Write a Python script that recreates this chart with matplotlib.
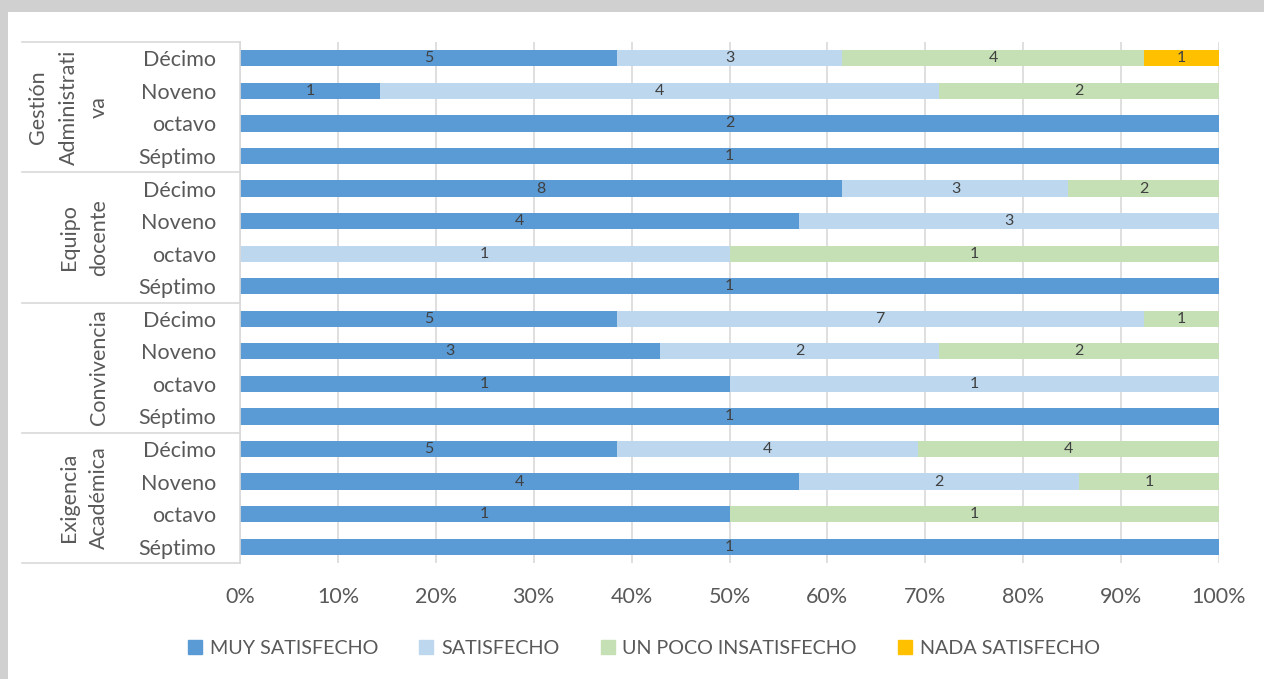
import numpy as np
import matplotlib.pyplot as plt
import matplotlib.patches as patches

plt.rcParams['font.family'] = ['Lato', 'DejaVu Sans']

# categories, top to bottom
groups = ["Gestión\nAdministrati\nva", "Equipo\ndocente", "Convivencia", "Exigencia\nAcadémica"]
grades = ["Décimo", "Noveno", "octavo", "Séptimo"]

series = ["MUY SATISFECHO", "SATISFECHO", "UN POCO INSATISFECHO", "NADA SATISFECHO"]
colors = ["#5B9BD5", "#BDD7EE", "#C5E0B4", "#FFC000"]

# counts per row (group x grade), top to bottom
muy_satisfecho = [5, 1, 2, 1,  8, 4, 0, 1,  5, 3, 1, 1,  5, 4, 1, 1]
satisfecho     = [3, 4, 0, 0,  3, 3, 1, 0,  7, 2, 1, 0,  4, 2, 0, 0]
poco_insat     = [4, 2, 0, 0,  2, 0, 1, 0,  1, 2, 0, 0,  4, 1, 1, 0]
nada_satisf    = [1, 0, 0, 0,  0, 0, 0, 0,  0, 0, 0, 0,  0, 0, 0, 0]

data = np.array([muy_satisfecho, satisfecho, poco_insat, nada_satisf], dtype=float)
totals = data.sum(axis=0)
pct = data / totals

n = data.shape[1]
ypos = np.arange(n)

fig = plt.figure(figsize=(12.64, 6.79), dpi=100)
fig.patch.set_facecolor("#D0D0D0")
fig.patches.append(patches.Rectangle((8 / 1264, 0), 1, 1 - 12 / 679, transform=fig.transFigure,
                                     facecolor="white", edgecolor="none", zorder=-5))

ax = fig.add_axes([240 / 1264, 1 - 563 / 679, 979 / 1264, 521 / 679])
ax.set_facecolor("none")

left = np.zeros(n)
for i in range(4):
    ax.barh(ypos, pct[i], left=left, height=0.5, color=colors[i], label=series[i], zorder=2)
    for j in range(n):
        if data[i, j] > 0:
            ax.text(left[j] + pct[i, j] / 2, ypos[j], f"{int(data[i, j])}", ha="center", va="center",
                    fontsize=11.5, color="#404040", zorder=3)
    left += pct[i]

fs = 15.5
ax.set_xlim(0, 1)
ax.set_ylim(n - 0.5, -0.5)
ax.set_xticks(np.arange(0, 1.01, 0.1))
ax.set_xticklabels([f"{int(round(v * 100))}%" for v in np.arange(0, 1.01, 0.1)])
ax.tick_params(axis="x", length=0, pad=17, labelsize=fs, labelcolor="#595959")
ax.set_yticks(ypos)
ax.set_yticklabels(grades * 4)
ax.tick_params(axis="y", length=0, pad=17, labelsize=fs, labelcolor="#595959")
ax.grid(axis="x", color="#D9D9D9", linewidth=1.2, zorder=0)
for s in ["top", "right", "bottom"]:
    ax.spines[s].set_visible(False)
ax.spines["left"].set_color("#D9D9D9")
ax.spines["left"].set_linewidth(1.2)

# group separators and labels
x0 = (22 - 240) / 979
for g in range(5):
    yb = g * 4 - 0.5
    ax.plot([x0, 0], [yb, yb], transform=ax.get_yaxis_transform(), color="#D9D9D9",
            linewidth=1.2, clip_on=False)
xl = (109 - 240) / 979
for g, name in enumerate(groups):
    ax.text(xl, g * 4 + 1.5, name, transform=ax.get_yaxis_transform(), rotation=90,
            ha="right", va="center", multialignment="center", fontsize=fs,
            color="#595959", linespacing=1.65)

handles = [patches.Patch(color=c) for c in colors]
fig.legend(handles, series, loc="center", bbox_to_anchor=(644 / 1264, 1 - 648 / 679), ncol=4,
           frameon=False, fontsize=14.2, labelcolor="#595959", handlelength=0.7, handleheight=0.7,
           handletextpad=0.4, columnspacing=2.1)

fig.savefig("out.png", dpi=100, facecolor=fig.get_facecolor())
